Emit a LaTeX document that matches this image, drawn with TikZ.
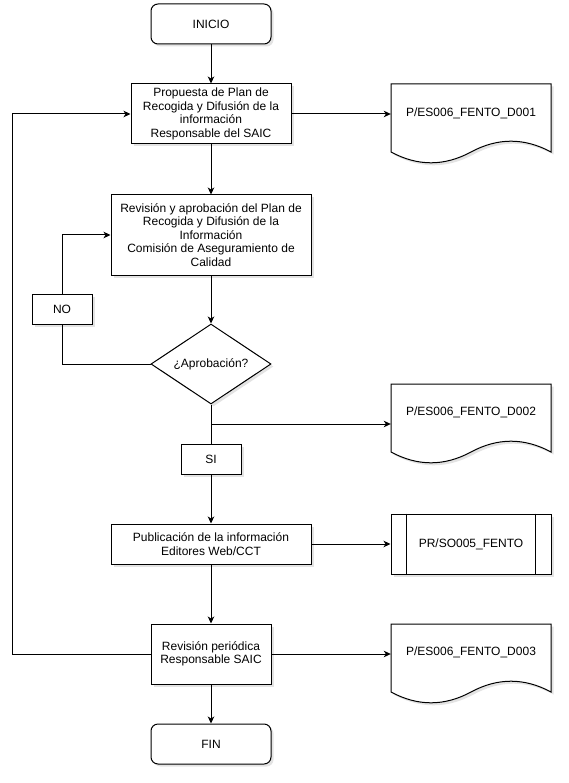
\documentclass[tikz,border=0pt]{standalone}
\usepackage{fontspec}
\setmainfont{Liberation Sans}
\usetikzlibrary{shapes.geometric,arrows.meta,shadows,calc}
\tikzset{
  shad/.style={drop shadow={shadow xshift=2.5pt,shadow yshift=-2.5pt,opacity=0.18,fill=black!60}},
  base/.style={draw=black,line width=1pt,fill=white,shad,align=center,
    font=\fontsize{12}{13.5}\selectfont,inner sep=0pt},
  term/.style={base,rounded corners=7pt,minimum width=120pt,minimum height=40pt},
  proc/.style={base,minimum height=#1},
  proc/.default=60pt,
  dec/.style={base,diamond,aspect=1.5,minimum width=120pt,minimum height=80pt},
  docbox/.style={rectangle,minimum width=160pt,minimum height=80pt,inner sep=0pt},
  doctext/.style={font=\fontsize{12}{13.5}\selectfont,inner sep=0pt},
  docline/.style={draw=black,line width=1pt,fill=white,shad},
  conn/.style={line width=1pt,draw=black},
  arr/.style={conn,-{Stealth[length=7pt,width=6.5pt,inset=2pt]}},
}
\newcommand\docshape[1]{%
  \begin{scope}[shift={(#1)}]
  \path[docline] (0,0) -- (160,0) -- (160,68)
    .. controls (133.33,53.6) and (106.67,53.6) .. (80,68)
    .. controls (53.33,82.4) and (26.67,82.4) .. (0,68) -- cycle;
  \end{scope}}
\begin{document}
\begin{tikzpicture}[x=1pt,y=-1pt]
\useasboundingbox[fill=white] (0,0) rectangle (569,783);
% nodes
\node[term] (ini) at (211,24) {INICIO};
\node[proc,minimum width=160pt] (pro) at (211,114) {Propuesta de Plan de\\Recogida y Difusión de la\\información\\Responsable del SAIC};
\node[proc=80pt,minimum width=200pt] (rev) at (211,235) {Revisión y aprobación del Plan de\\Recogida y Difusión de la\\Información\\Comisión de Aseguramiento de\\Calidad};
\node[proc=30pt,minimum width=60pt] (no) at (62,309) {NO};
\node[dec] (apr) at (211,364) {¿Aprobación?};
\node[proc=30pt,minimum width=60pt] (si) at (211,459) {SI};
\node[proc=40pt,minimum width=200pt] (pub) at (211,544) {Publicación de la información\\Editores Web/CCT};
\node[proc=60pt,minimum width=120pt] (rp) at (211,654) {Revisión periódica\\Responsable SAIC};
\node[term] (fin) at (211,744) {FIN};
% documents
\docshape{391,84}
\node[docbox] (d1) at (471,124) {};
\node[doctext] (d1t) at (471,113) {P/ES006\_FENTO\_D001};
\docshape{391,384}
\node[docbox] (d2) at (471,424) {};
\node[doctext] (d2t) at (471,412) {P/ES006\_FENTO\_D002};
\docshape{391,624}
\node[docbox] (d3) at (471,664) {};
\node[doctext] (d3t) at (471,652) {P/ES006\_FENTO\_D003};
% predefined process
\node[proc=60pt,minimum width=160pt] (prs) at (471,544) {PR/SO005\_FENTO};
\draw[conn] ([xshift=16pt]prs.north west) -- ([xshift=16pt]prs.south west);
\draw[conn] ([xshift=-16pt]prs.north east) -- ([xshift=-16pt]prs.south east);
% connectors
\coordinate (lt) at (12,114);
\coordinate (lb) at (12,654);
\coordinate (br) at (211,424);
\coordinate (nl) at (62,364);
\coordinate (nu) at (62,235);
\draw[arr] (ini) -- (pro);
\draw[arr] (pro.east) -- (pro.east -| d1.west);
\draw[arr] (pro) -- (rev);
\draw[arr] (rev) -- (apr);
\draw[conn] (apr.west) -- (nl) -- (no.south);
\draw[arr] (no.north) -- (nu) -- (rev.west |- nu);
\draw[conn] (apr.south) -- (si.north);
\draw[arr] (br) -- (br -| d2.west);
\draw[arr] (si) -- (pub);
\draw[arr] (pub) -- (prs);
\draw[arr] (pub) -- (rp);
\draw[arr] (rp.east) -- (rp.east -| d3.west);
\draw[arr] (rp) -- (fin);
\draw[arr] (rp.west) -- (lb) -- (lt) -- (pro.west);
\end{tikzpicture}
\end{document}
